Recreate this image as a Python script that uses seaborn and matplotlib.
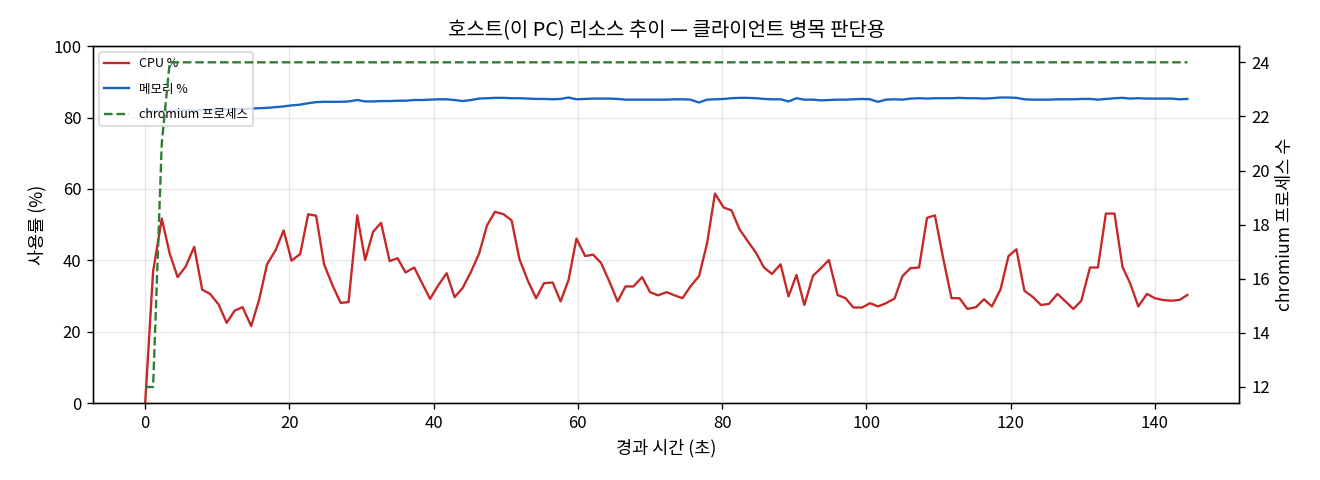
import matplotlib
matplotlib.use("Agg")
import matplotlib.pyplot as plt
import seaborn as sns
import pandas as pd

plt.rcParams['font.family'] = ['Noto Sans CJK KR', 'DejaVu Sans']
plt.rcParams['axes.unicode_minus'] = False

elapsed_s = [
    0.0, 1.1, 2.3, 3.4, 4.5, 5.6, 6.8, 7.9, 9.0, 10.2, 11.3, 12.4, 13.5, 14.7, 15.8, 16.9,
    18.1, 19.2, 20.3, 21.5, 22.6, 23.7, 24.8, 26.0, 27.1, 28.2, 29.4, 30.5, 31.6, 32.7, 33.9, 35.0,
    36.1, 37.3, 38.4, 39.5, 40.6, 41.8, 42.9, 44.0, 45.2, 46.3, 47.4, 48.5, 49.7, 50.8, 51.9, 53.1,
    54.2, 55.3, 56.5, 57.6, 58.7, 59.8, 61.0, 62.1, 63.2, 64.4, 65.5, 66.6, 67.7, 68.9, 70.0, 71.1,
    72.3, 73.4, 74.5, 75.6, 76.8, 77.9, 79.0, 80.2, 81.3, 82.4, 83.5, 84.7, 85.8, 86.9, 88.1, 89.2,
    90.3, 91.4, 92.6, 93.7, 94.8, 96.0, 97.1, 98.2, 99.4, 100.5, 101.6, 102.7, 103.9, 105.0, 106.1, 107.3,
    108.4, 109.5, 110.6, 111.8, 112.9, 114.0, 115.2, 116.3, 117.4, 118.6, 119.7, 120.8, 121.9, 123.1, 124.2, 125.3,
    126.5, 127.6, 128.7, 129.8, 131.0, 132.1, 133.2, 134.4, 135.5, 136.6, 137.7, 138.9, 140.0, 141.1, 142.3, 143.4,
    144.5,
]

cpu_pct = [
    0.0, 36.9, 51.7, 41.9, 35.3, 38.2, 43.8, 31.8, 30.6, 27.6, 22.5, 25.9, 26.9, 21.6, 29.0, 38.9,
    42.9, 48.4, 39.9, 41.8, 52.9, 52.5, 38.9, 32.9, 28.1, 28.3, 52.6, 40.1, 48.0, 50.5, 39.8, 40.6,
    36.6, 38.0, 33.6, 29.2, 32.9, 36.4, 29.7, 32.2, 36.9, 41.9, 49.8, 53.6, 52.9, 51.2, 40.3, 34.1,
    29.4, 33.6, 33.8, 28.5, 34.5, 46.1, 41.2, 41.6, 39.3, 33.9, 28.5, 32.7, 32.7, 35.3, 31.1, 30.2,
    31.1, 30.2, 29.4, 32.7, 35.6, 44.7, 58.7, 54.8, 54.0, 48.7, 45.5, 42.1, 38.0, 36.2, 38.9, 29.9,
    35.9, 27.5, 35.7, 37.8, 40.1, 30.3, 29.4, 26.8, 26.8, 28.0, 27.1, 28.0, 29.3, 35.6, 37.8, 38.0,
    51.9, 52.6, 41.0, 29.4, 29.4, 26.4, 26.9, 29.1, 27.1, 31.9, 41.2, 43.1, 31.5, 29.7, 27.5, 27.8,
    30.6, 28.5, 26.4, 28.7, 38.0, 38.0, 53.1, 53.1, 38.2, 33.4, 27.1, 30.6, 29.4, 28.9, 28.7, 28.9,
    30.3,
]

mem_pct = [
    81.6, 81.7, 81.8, 81.9, 81.9, 82.0, 82.0, 82.1, 82.2, 82.2, 82.3, 82.3, 82.4, 82.5, 82.6, 82.7,
    82.9, 83.1, 83.4, 83.6, 84.0, 84.3, 84.4, 84.4, 84.4, 84.5, 84.9, 84.5, 84.5, 84.6, 84.6, 84.7,
    84.7, 84.9, 84.9, 85.0, 85.1, 85.1, 84.9, 84.6, 84.9, 85.3, 85.4, 85.5, 85.5, 85.4, 85.4, 85.3,
    85.2, 85.2, 85.1, 85.2, 85.6, 85.1, 85.2, 85.3, 85.3, 85.3, 85.2, 85.0, 85.0, 85.0, 85.0, 85.0,
    85.0, 85.1, 85.1, 85.0, 84.2, 85.0, 85.1, 85.2, 85.4, 85.5, 85.5, 85.4, 85.2, 85.1, 85.1, 84.5,
    85.4, 85.0, 85.0, 84.8, 84.9, 85.0, 85.0, 85.1, 85.2, 85.1, 84.4, 85.0, 85.1, 85.0, 85.3, 85.4,
    85.3, 85.4, 85.4, 85.4, 85.5, 85.4, 85.4, 85.3, 85.4, 85.6, 85.6, 85.5, 85.1, 85.0, 85.0, 85.0,
    85.1, 85.1, 85.1, 85.2, 85.2, 85.0, 85.2, 85.4, 85.5, 85.3, 85.4, 85.3, 85.3, 85.3, 85.3, 85.1,
    85.2,
]

chromium_procs = [12, 12, 21] + [24] * 126

df = pd.DataFrame({"t": elapsed_s, "cpu": cpu_pct, "mem": mem_pct, "chrom": chromium_procs})

fig, ax = plt.subplots(figsize=(11, 4), dpi=120)
fig.subplots_adjust(left=0.0705, right=0.939, top=0.904, bottom=0.160)

sns.lineplot(data=df, x="t", y="cpu", ax=ax, color="#c62828", linewidth=1.4, label="CPU %")
sns.lineplot(data=df, x="t", y="mem", ax=ax, color="#1565c0", linewidth=1.4, label="메모리 %")
ax.set_ylim(0, 100)
ax.set_xlabel("경과 시간 (초)", fontsize=10.5)
ax.set_ylabel("사용률 (%)", fontsize=10.5)
ax.grid(True, color="#d9d9d9", alpha=0.6, linewidth=0.8)
ax.set_title("호스트(이 PC) 리소스 추이 — 클라이언트 병목 판단용", fontsize=12)

ax2 = ax.twinx()
sns.lineplot(data=df, x="t", y="chrom", ax=ax2, color="#2e7d32", linewidth=1.4,
             linestyle="--", label="chromium 프로세스")
ax2.set_ylabel("chromium 프로세스 수", fontsize=10.5)

h1, l1 = ax.get_legend_handles_labels()
h2, l2 = ax2.get_legend_handles_labels()
if ax2.get_legend() is not None:
    ax2.get_legend().remove()
ax.legend(h1 + h2, l1 + l2, loc="upper left", fontsize=7.5, framealpha=0.8,
          labelspacing=1.0)

fig.savefig("out.png", dpi=120)
